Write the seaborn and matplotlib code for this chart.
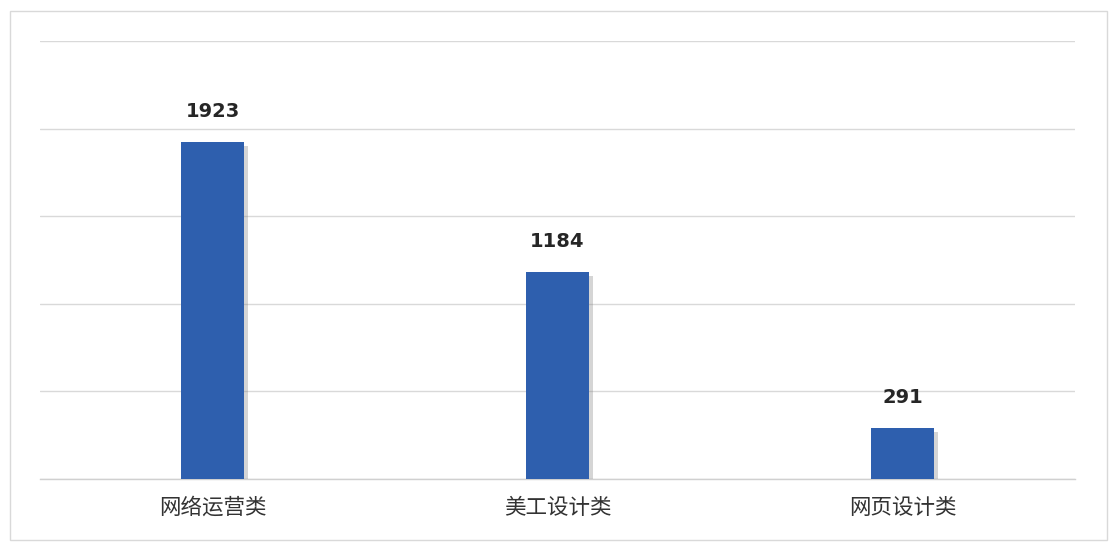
import matplotlib
matplotlib.use("Agg")
import matplotlib.pyplot as plt
import matplotlib.patheffects as pe
from matplotlib.patches import Rectangle
import seaborn as sns
import pandas as pd

categories = ["网络运营类", "美工设计类", "网页设计类"]
values = [1923, 1184, 291]
yticks = [0, 500, 1000, 1500, 2000, 2500]

sns.set_theme(style="white")
plt.rcParams['font.family'] = ['Noto Sans CJK SC', 'DejaVu Sans']

W, H = 1118, 546
fig = plt.figure(figsize=(W / 100, H / 100), dpi=100)
fig.patch.set_facecolor("white")
ax = fig.add_axes([40 / W, 1 - 479 / H, (1075 - 40) / W, (479 - 41) / H])

df = pd.DataFrame({"cat": categories, "val": values})
sns.barplot(data=df, x="cat", y="val", color="#2E5FAE", saturation=1,
            width=0.18, ax=ax, zorder=3, linewidth=0)

for p in ax.patches:
    p.set_linewidth(0)
    p.set_path_effects([pe.SimplePatchShadow(offset=(3, -3), shadow_rgbFace="#777777", alpha=0.3),
                        pe.Normal()])

for i, v in enumerate(values):
    ax.annotate(f"{v}", xy=(i, v), xytext=(0, 15), textcoords="offset points",
                ha="center", va="bottom", fontsize=14, fontweight="bold",
                color="#262626", family=["DejaVu Sans"])

ax.set_xlim(-0.5, 2.5)
ax.set_ylim(0, 2500)
ax.set_yticks(yticks)
ax.set_yticklabels([])
ax.yaxis.grid(True, color="#d9d9d9", linewidth=1)
ax.set_axisbelow(True)
for s in ["left", "right", "top"]:
    ax.spines[s].set_visible(False)
ax.spines["bottom"].set_color("#d0d0d0")
ax.spines["bottom"].set_linewidth(1)
ax.tick_params(axis="x", length=0, labelsize=15.5, colors="#333333", pad=13)
ax.tick_params(axis="y", length=0)
ax.set_xlabel("")
ax.set_ylabel("")

fig.patches.append(Rectangle((10 / W, 1 - 540 / H), (1107 - 10) / W, (540 - 11) / H,
                             transform=fig.transFigure, fill=False,
                             edgecolor="#d9d9d9", linewidth=1))

fig.savefig("out.png", dpi=100, facecolor="white")
